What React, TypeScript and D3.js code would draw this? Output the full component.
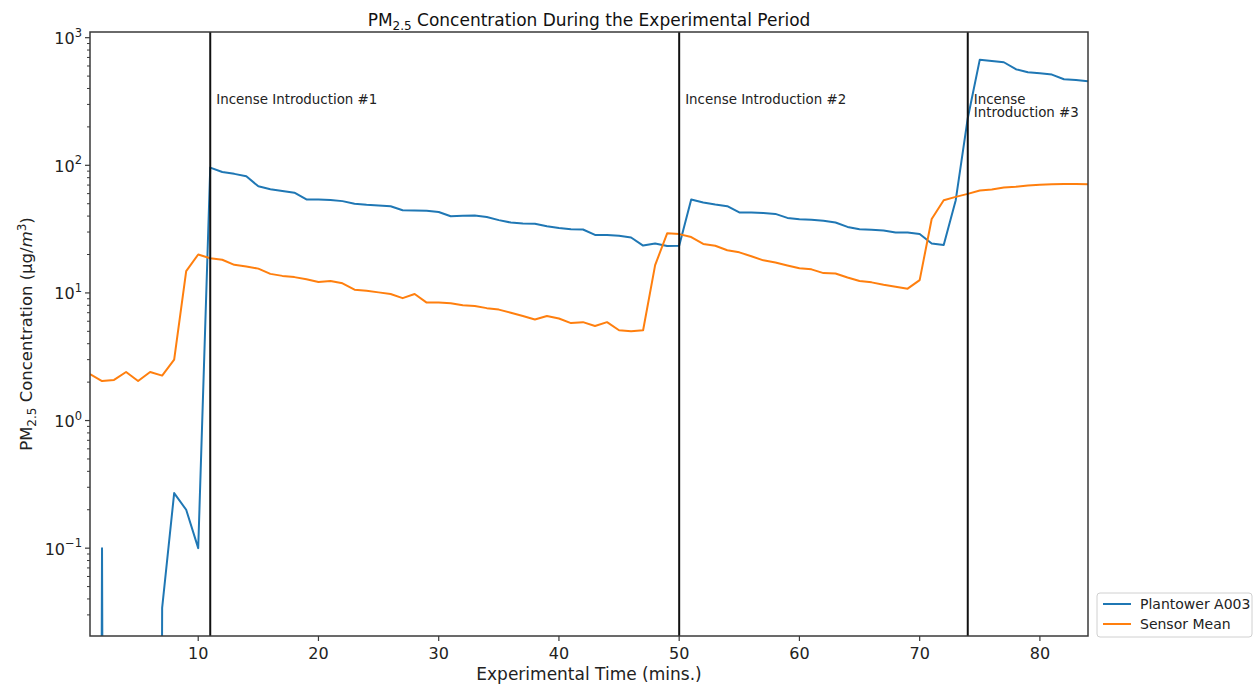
import React from "react";
import * as d3 from "d3";

// minutes since start of the experiment
const minutes = [
  1, 2, 3, 4, 5, 6, 7, 8, 9, 10, 11, 12, 13, 14, 15, 16, 17, 18, 19, 20, 21,
  22, 23, 24, 25, 26, 27, 28, 29, 30, 31, 32, 33, 34, 35, 36, 37, 38, 39, 40,
  41, 42, 43, 44, 45, 46, 47, 48, 49, 50, 51, 52, 53, 54, 55, 56, 57, 58, 59,
  60, 61, 62, 63, 64, 65, 66, 67, 68, 69, 70, 71, 72, 73, 74, 75, 76, 77, 78,
  79, 80, 81, 82, 83, 84,
];

// zeros are clipped like matplotlib does on a log axis
const plantowerA003 = [
  0, 0.1, 0, 0, 0, 0, 0.034, 0.27, 0.2, 0.1, 96, 88.7, 85.7, 82, 68.5, 65, 63,
  61, 54, 54, 53.5, 52.4, 49.9, 49, 48.4, 47.8, 44.5, 44.3, 44, 43.1, 39.9,
  40.2, 40.5, 39.4, 37.2, 35.6, 35, 34.8, 33.3, 32.2, 31.6, 31.4, 28.5, 28.4,
  28, 27.2, 23.5, 24.4, 23.3, 23.4, 54, 51.2, 49.3, 47.8, 42.7, 42.7, 42.2,
  41.6, 38.7, 37.8, 37.4, 36.7, 35.6, 32.9, 31.6, 31.2, 30.9, 29.8, 29.8, 29,
  24.4, 23.7, 53.3, 234, 673, 657, 642, 566, 536, 526, 514, 472, 467, 456,
];

const sensorMean = [
  2.31, 2.04, 2.08, 2.4, 2.04, 2.4, 2.25, 3.0, 14.8, 20, 18.7, 18.2, 16.6, 16.1,
  15.5, 14.1, 13.6, 13.3, 12.8, 12.2, 12.4, 11.9, 10.6, 10.4, 10.1, 9.8, 9.1,
  9.8, 8.4, 8.4, 8.3, 8.0, 7.9, 7.6, 7.4, 7.0, 6.6, 6.2, 6.6, 6.3, 5.8, 5.9,
  5.5, 5.9, 5.1, 5.0, 5.1, 16.5, 29.3, 28.9, 27.4, 24.2, 23.4, 21.6, 20.8, 19.4,
  18.0, 17.3, 16.4, 15.6, 15.3, 14.3, 14.2, 13.2, 12.4, 12.1, 11.6, 11.2, 10.8,
  12.6, 38, 53.3, 56.6, 59.7, 63.5, 64.7, 67, 68, 69.5, 70.3, 71, 71.4, 71.4,
  71,
];

const seriesNames = ["Plantower A003", "Sensor Mean"];
const xTicks = [10, 20, 30, 40, 50, 60, 70, 80];
const yTicks = [0.1, 1, 10, 100, 1000];
const yTickExponents = ["\u22121", "0", "1", "2", "3"];
const introTimes = [11, 50, 74];
const introLabels = [
  ["Incense Introduction #1"],
  ["Incense Introduction #2"],
  ["Incense", "Introduction #3"],
];

const W = 1253;
const H = 688;
const plot = { left: 90, right: 1088, top: 32, bottom: 636 };
const colors = ["#1f77b4", "#ff7f0e"];
const font = "DejaVu Sans, sans-serif";
const axisColor = "#3a3a3a";

export default function App() {
  const x = d3.scaleLinear().domain([1, 84]).range([plot.left, plot.right]);
  const y = d3.scaleLog().domain([0.0205, 1108]).range([plot.bottom, plot.top]);

  const line = d3
    .line<number>()
    .x((_, i) => x(minutes[i]))
    .y((d) => y(Math.max(d, 1e-30)));

  // minor log ticks 2..9 in each decade
  const minorTicks: number[] = [];
  for (let e = -2; e <= 3; e++) {
    for (let m = 2; m <= 9; m++) {
      const v = m * Math.pow(10, e);
      if (v > y.domain()[0] && v < y.domain()[1]) minorTicks.push(v);
    }
  }

  const series = [plantowerA003, sensorMean];
  const midX = (plot.left + plot.right) / 2;
  const midY = (plot.top + plot.bottom) / 2;

  return (
    <svg
      width={W}
      height={H}
      style={{ position: "absolute", left: 0, top: 0, background: "#fff" }}
      fontFamily={font}
    >
      <defs>
        <clipPath id="plotClip">
          <rect
            x={plot.left}
            y={plot.top}
            width={plot.right - plot.left}
            height={plot.bottom - plot.top}
          />
        </clipPath>
      </defs>

      {/* title */}
      <text x={midX} y={26} textAnchor="middle" fontSize={17} fill="#111">
        PM
        <tspan dy={4} fontSize={12}>
          2.5
        </tspan>
        <tspan dy={-4}> Concentration During the Experimental Period</tspan>
      </text>

      {/* series */}
      <g clipPath="url(#plotClip)">
        {series.map((s, i) => (
          <path
            key={seriesNames[i]}
            d={line(s) || ""}
            fill="none"
            stroke={colors[i]}
            strokeWidth={2}
            strokeLinejoin="round"
          />
        ))}
      </g>

      {/* incense introduction markers */}
      {introTimes.map((t, i) => (
        <g key={t}>
          <line
            x1={x(t)}
            x2={x(t)}
            y1={plot.top}
            y2={plot.bottom}
            stroke="#111"
            strokeWidth={2}
          />
          <text x={x(t) + 6} y={y(300)} fontSize={13.4} fill="#222">
            {introLabels[i].map((l, j) => (
              <tspan key={j} x={x(t) + 6} dy={j === 0 ? 0 : 13}>
                {l}
              </tspan>
            ))}
          </text>
        </g>
      ))}

      {/* frame */}
      <rect
        x={plot.left}
        y={plot.top}
        width={plot.right - plot.left}
        height={plot.bottom - plot.top}
        fill="none"
        stroke={axisColor}
        strokeWidth={1.5}
      />

      {/* x axis */}
      {xTicks.map((t) => (
        <g key={t}>
          <line
            x1={x(t)}
            x2={x(t)}
            y1={plot.bottom}
            y2={plot.bottom + 5}
            stroke={axisColor}
            strokeWidth={1.2}
          />
          <text
            x={x(t)}
            y={plot.bottom + 23}
            textAnchor="middle"
            fontSize={16}
            fill="#222"
          >
            {t}
          </text>
        </g>
      ))}
      <text x={midX} y={680} textAnchor="middle" fontSize={17} fill="#222">
        Experimental Time (mins.)
      </text>

      {/* y axis */}
      {minorTicks.map((v) => (
        <line
          key={v}
          x1={plot.left - 3}
          x2={plot.left}
          y1={y(v)}
          y2={y(v)}
          stroke={axisColor}
          strokeWidth={1}
        />
      ))}
      {yTicks.map((v, i) => (
        <g key={v}>
          <line
            x1={plot.left - 5}
            x2={plot.left}
            y1={y(v)}
            y2={y(v)}
            stroke={axisColor}
            strokeWidth={1.2}
          />
          <text
            x={plot.left - 8}
            y={y(v) + 6.5}
            textAnchor="end"
            fontSize={16}
            fill="#222"
          >
            10
            <tspan dy={-7.5} fontSize={11.5}>
              {yTickExponents[i]}
            </tspan>
          </text>
        </g>
      ))}
      <text
        transform={`translate(32,${midY}) rotate(-90)`}
        textAnchor="middle"
        fontSize={16.5}
        fill="#222"
      >
        PM
        <tspan dy={4} fontSize={12}>
          2.5
        </tspan>
        <tspan dy={-4}> Concentration (μg/</tspan>
        <tspan fontStyle="italic">m</tspan>
        <tspan dy={-6} fontSize={12}>
          3
        </tspan>
        <tspan dy={6}>)</tspan>
      </text>

      {/* legend */}
      <g>
        <rect
          x={1097}
          y={593}
          width={155}
          height={44}
          rx={3}
          fill="#fff"
          stroke="#d0d0d0"
        />
        {seriesNames.map((n, i) => (
          <g key={n}>
            <line
              x1={1103}
              x2={1131}
              y1={604 + i * 20}
              y2={604 + i * 20}
              stroke={colors[i]}
              strokeWidth={2}
            />
            <text x={1140} y={609 + i * 20} fontSize={14} fill="#222">
              {n}
            </text>
          </g>
        ))}
      </g>
    </svg>
  );
}
